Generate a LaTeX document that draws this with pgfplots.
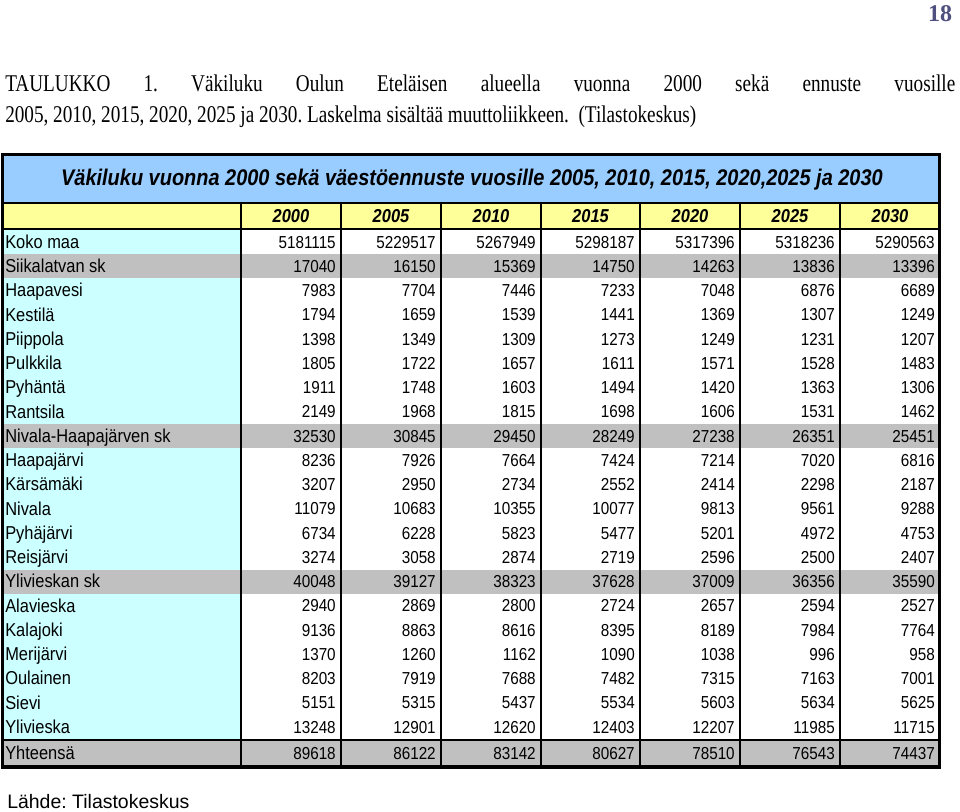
\documentclass[border=0pt]{standalone}
\usepackage{pgfplots}
\pgfplotsset{compat=1.18}
\usepackage{pgfplotstable}
\usepackage{fontspec}
\setmainfont{Liberation Serif}
\newfontfamily\tabfont[FakeStretch=0.88]{Liberation Sans}
\newfontfamily\plainsans{Liberation Sans}
\newfontfamily\capfont[FakeStretch=0.8]{Liberation Serif}

\definecolor{titleblue}{HTML}{99CCFF}
\definecolor{headyellow}{HTML}{FFFF99}
\definecolor{labelcyan}{HTML}{CCFFFF}
\definecolor{rowgray}{HTML}{C0C0C0}
\definecolor{pagenum}{HTML}{505080}

% population by municipality; y = row centre in pixels from the top
\pgfplotstableread[col sep=comma]{
name,y,a,b,c,d,e,f,g
Koko maa,242,5181115,5229517,5267949,5298187,5317396,5318236,5290563
Siikalatvan sk,266.25,17040,16150,15369,14750,14263,13836,13396
Haapavesi,290.5,7983,7704,7446,7233,7048,6876,6689
Kestilä,314.75,1794,1659,1539,1441,1369,1307,1249
Piippola,339,1398,1349,1309,1273,1249,1231,1207
Pulkkila,363.25,1805,1722,1657,1611,1571,1528,1483
Pyhäntä,387.5,1911,1748,1603,1494,1420,1363,1306
Rantsila,411.75,2149,1968,1815,1698,1606,1531,1462
Nivala-Haapajärven sk,436,32530,30845,29450,28249,27238,26351,25451
Haapajärvi,460.25,8236,7926,7664,7424,7214,7020,6816
Kärsämäki,484.5,3207,2950,2734,2552,2414,2298,2187
Nivala,508.75,11079,10683,10355,10077,9813,9561,9288
Pyhäjärvi,533,6734,6228,5823,5477,5201,4972,4753
Reisjärvi,557.25,3274,3058,2874,2719,2596,2500,2407
Ylivieskan sk,581.5,40048,39127,38323,37628,37009,36356,35590
Alavieska,605.75,2940,2869,2800,2724,2657,2594,2527
Kalajoki,630,9136,8863,8616,8395,8189,7984,7764
Merijärvi,654.25,1370,1260,1162,1090,1038,996,958
Oulainen,678.5,8203,7919,7688,7482,7315,7163,7001
Sievi,702.75,5151,5315,5437,5534,5603,5634,5625
Ylivieska,727,13248,12901,12620,12403,12207,11985,11715
Yhteensä,753,89618,86122,83142,80627,78510,76543,74437
}\poptable

\pgfplotsset{
  cell/.style={draw=none, mark=none, nodes near coords, point meta=explicit symbolic,
    every node near coord/.append style={anchor=east, inner sep=0pt,
      text height=9.3pt, text depth=0pt,
      font=\tabfont\fontsize{13}{15}\selectfont}},
}

\begin{document}
\frenchspacing
\begin{tikzpicture}
\begin{axis}[
  width=720pt, height=609pt, scale only axis,
  xmin=0, xmax=960, ymin=0, ymax=812, y dir=reverse,
  hide axis, clip=false,
]
% backgrounds
\fill[titleblue] (3,155) rectangle (940,203);
\fill[headyellow] (3,203) rectangle (940,229);
\fill[labelcyan] (3,229) rectangle (241,740);
\fill[rowgray] (3,254) rectangle (940,278);
\fill[rowgray] (3,424) rectangle (940,448);
\fill[rowgray] (3,570) rectangle (940,594);
\fill[rowgray] (3,740) rectangle (940,767);
% rules
\draw[line width=1.5pt] (3,203) -- (940,203);
\draw[line width=1.1pt] (3,229) -- (940,229);
\draw[line width=2.2pt] (3,740) -- (940,740);
\draw[line width=1.8pt] (241,203) -- (241,767);
\draw[line width=1.8pt] (341,203) -- (341,767);
\draw[line width=1.8pt] (441,203) -- (441,767);
\draw[line width=1.8pt] (541,203) -- (541,767);
\draw[line width=1.8pt] (640,203) -- (640,767);
\draw[line width=1.8pt] (740,203) -- (740,767);
\draw[line width=1.8pt] (840,203) -- (840,767);
\draw[line width=2.3pt] (2.5,154.5) rectangle (939.5,767);

% title and headers
\node[font=\tabfont\bfseries\itshape\fontsize{17}{19}\selectfont] at (472,180)
  {Väkiluku vuonna 2000 sekä väestöennuste vuosille 2005, 2010, 2015, 2020,2025 ja 2030};
\node[font=\tabfont\bfseries\itshape\fontsize{14}{16}\selectfont] at (291,216) {2000};
\node[font=\tabfont\bfseries\itshape\fontsize{14}{16}\selectfont] at (391,216) {2005};
\node[font=\tabfont\bfseries\itshape\fontsize{14}{16}\selectfont] at (491,216) {2010};
\node[font=\tabfont\bfseries\itshape\fontsize{14}{16}\selectfont] at (590.5,216) {2015};
\node[font=\tabfont\bfseries\itshape\fontsize{14}{16}\selectfont] at (690,216) {2020};
\node[font=\tabfont\bfseries\itshape\fontsize{14}{16}\selectfont] at (790,216) {2025};
\node[font=\tabfont\bfseries\itshape\fontsize{14}{16}\selectfont] at (890,216) {2030};

% row labels and values
\addplot[cell, every node near coord/.append style={anchor=west,
    font=\tabfont\fontsize{14}{16}\selectfont, text height=9.6pt}]
  table[x expr=5, y=y, meta=name] {\poptable};
\addplot[cell] table[x expr=336, y=y, meta=a] {\poptable};
\addplot[cell] table[x expr=436, y=y, meta=b] {\poptable};
\addplot[cell] table[x expr=536, y=y, meta=c] {\poptable};
\addplot[cell] table[x expr=635, y=y, meta=d] {\poptable};
\addplot[cell] table[x expr=735, y=y, meta=e] {\poptable};
\addplot[cell] table[x expr=835, y=y, meta=f] {\poptable};
\addplot[cell] table[x expr=935, y=y, meta=g] {\poptable};

% page text
\node[inner sep=0pt, text=pagenum, font=\bfseries\fontsize{18}{20}\selectfont]
  at (940,14) {18};
\node[anchor=base west, inner sep=0pt] at (5,92) {\parbox[t]{712.5pt}{\capfont\fontsize{18}{23.25}\selectfont\frenchspacing
  TAULUKKO 1. Väkiluku Oulun Eteläisen alueella vuonna 2000 sekä ennuste vuosille\linebreak
  2005, 2010, 2015, 2020, 2025 ja 2030. Laskelma sisältää muuttoliikkeen.\ \ (Tilastokeskus)}};
\node[anchor=west, inner sep=0pt, font=\plainsans\fontsize{14.6}{17}\selectfont] at (7,802)
  {Lähde: Tilastokeskus};
\path (0,0) rectangle (960,812);
\end{axis}
\end{tikzpicture}
\end{document}
